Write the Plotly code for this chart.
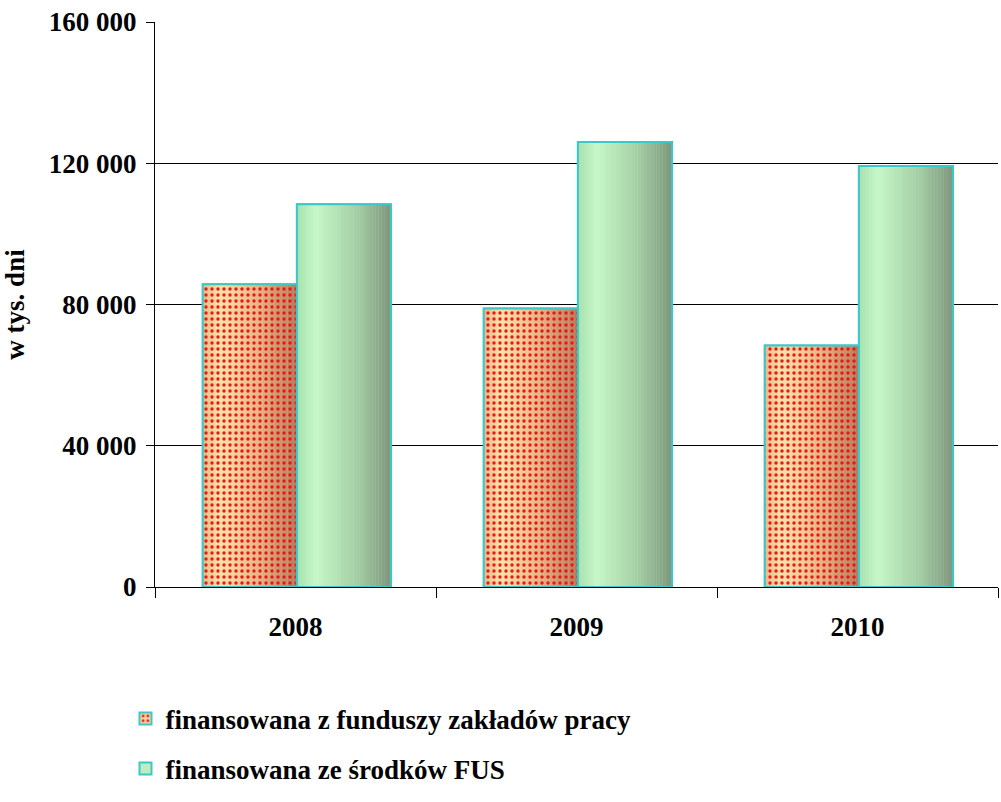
import plotly.graph_objects as go

# ---- data ----
categories = ["2008", "2009", "2010"]
zaklady = [85700, 78900, 68400]      # finansowana z funduszy zakładów pracy
fus = [108400, 126000, 119200]       # finansowana ze środków FUS
tick_vals = [0, 40000, 80000, 120000, 160000]
tick_text = ["0", "40 000", "80 000", "120 000", "160 000"]
series_names = ["finansowana z funduszy zakładów pracy", "finansowana ze środków FUS"]

FONT = "Liberation Serif, Times New Roman, serif"
FS = 27
BORDER = "#3CC8C8"
BAR_W = 0.335
N_SLICES = 30

orange_stops = [(0.0, (236, 184, 132)), (0.18, (252, 226, 170)), (0.55, (236, 186, 136)), (1.0, (184, 120, 90))]
green_stops = [(0.0, (168, 224, 176)), (0.2, (198, 248, 200)), (0.65, (164, 204, 164)), (1.0, (126, 150, 126))]


def interp(stops, t):
    for (t0, c0), (t1, c1) in zip(stops[:-1], stops[1:]):
        if t0 <= t <= t1:
            f = (t - t0) / (t1 - t0) if t1 > t0 else 0
            c = [round(a + (b - a) * f) for a, b in zip(c0, c1)]
            return f"rgb({c[0]},{c[1]},{c[2]})"
    c = stops[-1][1]
    return f"rgb({c[0]},{c[1]},{c[2]})"


fig = go.Figure()

series = [
    (zaklady, -BAR_W + 0.005, orange_stops, series_names[0], True),
    (fus, 0.005, green_stops, series_names[1], False),
]

# legend / base traces
for vals, off, stops, name, dotted in series:
    marker = dict(color=interp(stops, 0.3), line=dict(color=BORDER, width=2))
    if dotted:
        marker["pattern"] = dict(shape=".", fgcolor="#E81818", bgcolor=interp(stops, 0.3),
                                 size=6, solidity=0.25, fillmode="replace")
    fig.add_trace(go.Bar(x=categories, y=vals, offset=off, width=BAR_W,
                         name=f"<b>{name}</b>",
                         marker=marker, legendgroup=name, showlegend=True))

# gradient slices
for vals, off, stops, name, dotted in series:
    sw = BAR_W / N_SLICES
    for i in range(N_SLICES):
        t = (i + 0.5) / N_SLICES
        fig.add_trace(go.Bar(x=categories, y=vals, offset=off + i * sw, width=sw * 1.05,
                             marker=dict(color=interp(stops, t), line=dict(width=0)),
                             showlegend=False, hoverinfo="skip"))

# overlays (pattern + border)
for vals, off, stops, name, dotted in series:
    marker = dict(color="rgba(0,0,0,0)", line=dict(color=BORDER, width=2))
    if dotted:
        marker["pattern"] = dict(shape=".", fgcolor="#E81818", bgcolor="rgba(0,0,0,0)",
                                 size=6, solidity=0.25, fillmode="replace")
    fig.add_trace(go.Bar(x=categories, y=vals, offset=off, width=BAR_W, marker=marker,
                         showlegend=False, hoverinfo="skip"))

fig.update_layout(
    width=1001, height=802,
    barmode="overlay",
    paper_bgcolor="white", plot_bgcolor="white",
    margin=dict(l=155, r=3, t=22, b=215, autoexpand=False),
    font=dict(family=FONT, size=FS, color="black"),
    showlegend=True,
    legend=dict(x=-0.035, xanchor="left", y=-0.19, yanchor="top",
                orientation="v", tracegroupgap=12, traceorder="grouped",
                font=dict(family=FONT, size=FS, color="black"),
                bgcolor="rgba(0,0,0,0)"),
)

fig.update_yaxes(range=[0, 160000], tickvals=tick_vals,
                 ticktext=[f"<b>{t}</b>" for t in tick_text],
                 showgrid=True, gridcolor="black", gridwidth=1,
                 showline=True, linecolor="black", linewidth=1,
                 ticks="outside", ticklen=8, tickcolor="black",
                 ticklabelstandoff=4, zeroline=False, automargin=False,
                 title=dict(text="<b>w tys. dni</b>", standoff=28,
                            font=dict(family=FONT, size=FS, color="black")))
fig.update_xaxes(type="category", showline=True, linecolor="black", linewidth=1,
                 ticks="outside", tickson="boundaries", ticklen=10, tickcolor="black",
                 tickvals=categories, ticktext=[f"<b>{c}</b>" for c in categories],
                 ticklabelstandoff=16, showgrid=False, automargin=False)

fig.write_html("out.html", config={"displayModeBar": False},
               post_script="document.body.style.margin='0';document.body.style.overflow='hidden';")
